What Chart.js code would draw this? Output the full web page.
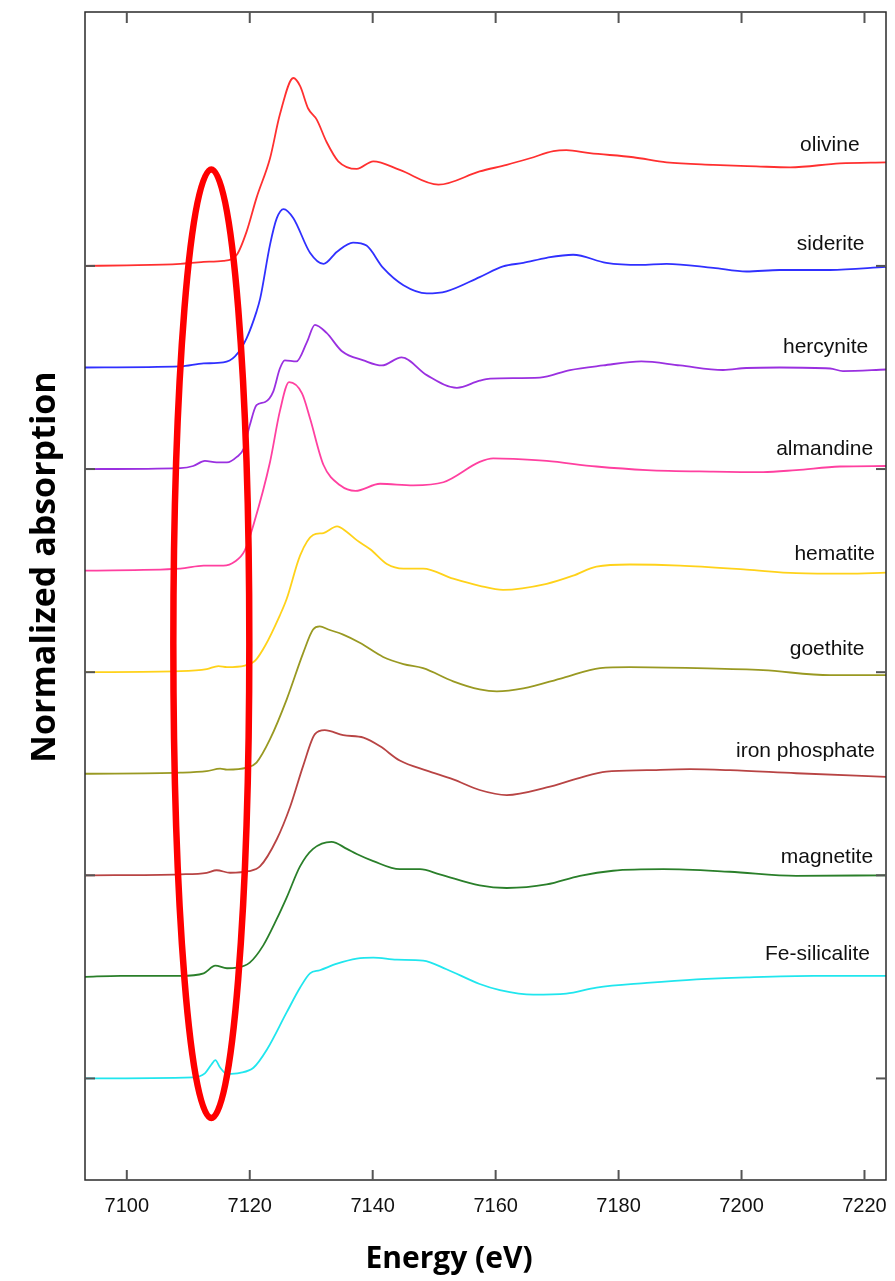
<!DOCTYPE html>
<html>
<head>
<meta charset="utf-8">
<script src="https://cdn.jsdelivr.net/npm/chart.js@4.4.1/dist/chart.umd.min.js"></script>
<style>
  html, body { margin: 0; padding: 0; background: #fff; }
  #wrap { width: 895px; height: 1281px; }
</style>
</head>
<body>
<div id="wrap"><canvas id="xanesChart" width="895" height="1281"></canvas></div>
<script>
// Fe K-edge XANES reference spectra (normalized, stacked with unit offsets)
const energyTicks = [7100, 7120, 7140, 7160, 7180, 7200, 7220];
const absTicks = [0, 2, 4, 6, 8];

const names = ["olivine", "siderite", "hercynite", "almandine", "hematite",
  "goethite", "iron phosphate", "magnetite", "Fe-silicalite"];
const offsets = [8, 7, 6, 5, 4, 3, 2, 1, 0];

const olivineE = [7093.2, 7100, 7108.7, 7112.5, 7115.7, 7117.9, 7119.5, 7121.1, 7123.3, 7124.9, 7127.1, 7128.2, 7129.5, 7130.9, 7132.5, 7134.4, 7137.4, 7140.1, 7144.4, 7150.7, 7157.4, 7161.8, 7165.6, 7169.4, 7171.5, 7175.3, 7182.4, 7187.8, 7195.4, 7202.4, 7207.9, 7216, 7223.5];
const olivineMu = [0, 0.005, 0.02, 0.04, 0.05, 0.11, 0.34, 0.67, 1.06, 1.49, 1.85, 1.77, 1.55, 1.44, 1.22, 1.03, 0.955, 1.03, 0.945, 0.80, 0.93, 0.995, 1.06, 1.13, 1.14, 1.11, 1.07, 1.02, 0.995, 0.98, 0.97, 1.01, 1.02];

const sideriteE = [7093.2, 7108.7, 7112.5, 7115.7, 7117.6, 7119.5, 7121.1, 7121.7, 7123.3, 7124.4, 7125.5, 7127.1, 7129.8, 7132, 7134.2, 7136.8, 7139, 7141.7, 7145, 7148.8, 7152, 7157.4, 7161.2, 7164.5, 7168.3, 7172.6, 7178, 7183.5, 7187.8, 7195.4, 7200.8, 7206.2, 7214.4, 7223.5];
const sideriteMu = [0, 0.01, 0.04, 0.05, 0.11, 0.29, 0.55, 0.68, 1.21, 1.47, 1.56, 1.47, 1.13, 1.02, 1.14, 1.23, 1.20, 0.98, 0.81, 0.73, 0.75, 0.89, 0.995, 1.03, 1.08, 1.11, 1.03, 1.01, 1.02, 0.98, 0.945, 0.96, 0.96, 0.99];

const hercyniteE = [7093.2, 7108.7, 7110.8, 7112.7, 7114.6, 7116.3, 7117.9, 7119, 7120, 7121.1, 7122.5, 7123.8, 7124.9, 7125.7, 7127.6, 7129.3, 7130.6, 7132.5, 7135, 7138.5, 7141.5, 7144.7, 7148.8, 7153.7, 7157.4, 7159.1, 7167.2, 7172.1, 7177.5, 7183.7, 7190, 7197, 7200.8, 7206.2, 7214.4, 7216.5, 7223.5];
const hercyniteMu = [0, 0.01, 0.03, 0.08, 0.065, 0.065, 0.12, 0.20, 0.43, 0.63, 0.66, 0.76, 0.99, 1.07, 1.06, 1.25, 1.42, 1.34, 1.16, 1.07, 1.02, 1.10, 0.925, 0.80, 0.87, 0.89, 0.90, 0.975, 1.02, 1.06, 1.02, 0.975, 0.995, 1.0, 0.99, 0.965, 0.98];

const almandineE = [7093.2, 7108.7, 7112.5, 7115.7, 7117.6, 7119.2, 7120.6, 7123.3, 7124.9, 7126.4, 7128.5, 7129.8, 7132, 7134.7, 7137.2, 7141.2, 7146.6, 7151.5, 7157.4, 7159.6, 7162.9, 7168.3, 7176.4, 7184.6, 7195.4, 7203.5, 7208.9, 7216, 7223.5];
const almandineMu = [0, 0.02, 0.05, 0.05, 0.09, 0.20, 0.45, 1.07, 1.57, 1.855, 1.745, 1.50, 1.04, 0.84, 0.785, 0.855, 0.84, 0.87, 1.07, 1.105, 1.10, 1.08, 1.025, 0.99, 0.975, 0.97, 0.99, 1.025, 1.03];

const hematiteE = [7093.2, 7108.7, 7113, 7114.9, 7116.3, 7119.2, 7120.9, 7122.5, 7124.9, 7126, 7128.2, 7130.3, 7132, 7134.2, 7135.8, 7137.4, 7139.6, 7142.3, 7145, 7148.2, 7153.1, 7157.4, 7161.2, 7168.3, 7172.6, 7176.4, 7181.8, 7190, 7200.8, 7208.9, 7217.1, 7223.5];
const hematiteMu = [0, 0.01, 0.03, 0.06, 0.05, 0.065, 0.115, 0.26, 0.56, 0.72, 1.15, 1.35, 1.37, 1.435, 1.38, 1.30, 1.21, 1.065, 1.02, 1.02, 0.92, 0.85, 0.81, 0.87, 0.95, 1.04, 1.06, 1.05, 1.01, 0.975, 0.97, 0.98];

const goethiteE = [7093.2, 7108.7, 7113, 7115.2, 7116.3, 7119.5, 7121.1, 7123.3, 7126, 7128.7, 7130.3, 7131.4, 7132.8, 7135.2, 7137.9, 7141.7, 7145, 7148.2, 7153.1, 7157.4, 7160.2, 7164.5, 7171, 7177, 7181.8, 7192.7, 7203.5, 7214.4, 7223.5];
const goethiteMu = [0, 0.01, 0.025, 0.05, 0.04, 0.06, 0.11, 0.34, 0.73, 1.19, 1.42, 1.45, 1.42, 1.37, 1.29, 1.15, 1.08, 1.04, 0.91, 0.83, 0.81, 0.84, 0.945, 1.04, 1.05, 1.04, 1.02, 0.97, 0.97];

const phosphateE = [7093.2, 7108.7, 7113, 7114.6, 7116.8, 7119.8, 7121.7, 7124.4, 7126.6, 7128.7, 7130.6, 7132.2, 7135.2, 7138.5, 7141.2, 7144.4, 7148.8, 7153.1, 7157.4, 7161.8, 7168.3, 7173.7, 7178, 7184.6, 7191.6, 7198.1, 7208.9, 7223.5];
const phosphateMu = [0, 0.01, 0.025, 0.05, 0.025, 0.04, 0.09, 0.355, 0.68, 1.08, 1.39, 1.43, 1.38, 1.355, 1.27, 1.13, 1.03, 0.945, 0.84, 0.79, 0.865, 0.96, 1.02, 1.035, 1.045, 1.035, 1.005, 0.97];

const magnetiteE = [7093.2, 7099, 7108.7, 7112.5, 7114.4, 7116.3, 7117.9, 7120, 7122.2, 7124.4, 7126, 7128.2, 7130.3, 7133.3, 7135.8, 7137.4, 7140.1, 7144.4, 7147.7, 7150.9, 7157.4, 7161.8, 7168.3, 7173.7, 7179.1, 7187.3, 7198.1, 7208.9, 7223.5];
const magnetiteMu = [0, 0.01, 0.01, 0.035, 0.11, 0.085, 0.09, 0.14, 0.31, 0.57, 0.78, 1.09, 1.26, 1.33, 1.26, 1.21, 1.14, 1.06, 1.06, 1.01, 0.90, 0.875, 0.91, 0.995, 1.045, 1.06, 1.035, 0.995, 1.0];

const silicaliteE = [7093.2, 7110.8, 7112.7, 7113.8, 7114.4, 7115.2, 7116.3, 7118.4, 7120.6, 7122.8, 7126, 7128.2, 7129.8, 7131.4, 7134.2, 7137.4, 7140.1, 7143.9, 7148.2, 7152, 7157.4, 7160.7, 7166.1, 7171.5, 7176.4, 7184.6, 7192.7, 7200.8, 7211.7, 7223.5];
const silicaliteMu = [0, 0.01, 0.05, 0.14, 0.18, 0.105, 0.045, 0.055, 0.105, 0.285, 0.65, 0.895, 1.035, 1.065, 1.13, 1.18, 1.19, 1.17, 1.16, 1.075, 0.93, 0.87, 0.825, 0.835, 0.895, 0.94, 0.975, 0.995, 1.01, 1.01];

// the red ellipse marking the pre-edge region: centre (eV, abs), half-width (eV), half-height (abs)
const preEdgeMark = [7113.75, 4.28, 6.18, 4.67];

const energies = [olivineE, sideriteE, hercyniteE, almandineE, hematiteE, goethiteE, phosphateE, magnetiteE, silicaliteE];
const spectra = [olivineMu, sideriteMu, hercyniteMu, almandineMu, hematiteMu, goethiteMu, phosphateMu, magnetiteMu, silicaliteMu];
const colors = ["#ff3030", "#3030ff", "#9a30e0", "#ff40a0", "#ffd21a", "#999922", "#b84444", "#2a7f2a", "#20e6ee"];

// label anchors: right end (eV) and lift above the baseline (abs units)
const labelPos = [
  [7219.2, 1.19], [7220.0, 1.21], [7220.6, 1.195], [7221.4, 1.20], [7221.7, 1.165],
  [7220.0, 1.23], [7221.7, 1.22], [7221.4, 1.18], [7220.9, 1.22]
];

const datasets = names.map((name, i) => ({
  label: name,
  data: energies[i].map((e, k) => ({ x: e, y: spectra[i][k] + offsets[i] })),
  borderColor: colors[i],
  borderWidth: 1.8,
  pointRadius: 0,
  fill: false,
  cubicInterpolationMode: "monotone",
}));

function seg(ctx, x1, y1, x2, y2) {
  ctx.beginPath();
  ctx.moveTo(x1, y1);
  ctx.lineTo(x2, y2);
  ctx.stroke();
}

const overlay = {
  id: "overlay",
  afterDatasetsDraw(chart) {
    const { ctx, chartArea: a } = chart;
    const x = chart.scales.x;
    const y = chart.scales.y;
    ctx.save();

    // pre-edge ellipse
    const cx = x.getPixelForValue(preEdgeMark[0]);
    const cy = y.getPixelForValue(preEdgeMark[1]);
    const rx = x.getPixelForValue(preEdgeMark[0] + preEdgeMark[2]) - cx;
    const ry = cy - y.getPixelForValue(preEdgeMark[1] + preEdgeMark[3]);
    ctx.strokeStyle = "#ff0000";
    ctx.lineWidth = 6.5;
    ctx.beginPath();
    ctx.ellipse(cx, cy, rx, ry, 0, 0, Math.PI * 2);
    ctx.stroke();

    // frame
    ctx.strokeStyle = "#2a2a2a";
    ctx.lineWidth = 1.5;
    ctx.strokeRect(a.left, a.top, a.right - a.left, a.bottom - a.top);

    // inward ticks
    ctx.strokeStyle = "#555";
    ctx.lineWidth = 2;
    energyTicks.forEach((v) => {
      const px = x.getPixelForValue(v);
      seg(ctx, px, a.bottom, px, a.bottom - 10);
      seg(ctx, px, a.top, px, a.top + 11);
    });
    absTicks.forEach((v) => {
      const py = y.getPixelForValue(v);
      seg(ctx, a.left, py, a.left + 10, py);
      seg(ctx, a.right, py, a.right - 10, py);
    });

    // spectrum names
    ctx.fillStyle = "#111";
    ctx.font = '21px "Liberation Sans", Arial, sans-serif';
    ctx.textAlign = "right";
    ctx.textBaseline = "middle";
    names.forEach((name, i) => {
      ctx.fillText(name, x.getPixelForValue(labelPos[i][0]), y.getPixelForValue(offsets[i] + labelPos[i][1]));
    });

    // axis titles
    ctx.fillStyle = "#000";
    ctx.textAlign = "center";
    ctx.font = '700 30px "Open Sans", sans-serif';
    ctx.textBaseline = "alphabetic";
    ctx.fillText("Energy (eV)", 449, 1268);

    ctx.translate(45, 567);
    ctx.rotate(-Math.PI / 2);
    ctx.font = '700 34px "Open Sans", sans-serif';
    ctx.textBaseline = "middle";
    ctx.fillText("Normalized absorption", 0, 0);

    ctx.restore();
  },
};

const canvas = document.getElementById("xanesChart");
const chart = new Chart(canvas.getContext("2d"), {
  type: "line",
  data: { datasets: datasets },
  options: {
    responsive: false,
    animation: false,
    devicePixelRatio: 1,
    layout: { padding: { left: 85, right: 9, top: 12, bottom: 0 } },
    plugins: {
      legend: { display: false },
      tooltip: { enabled: false },
    },
    scales: {
      x: {
        type: "linear",
        min: 7093.2,
        max: 7223.5,
        afterBuildTicks: (scale) => {
          scale.ticks = energyTicks.map((v) => ({ value: v }));
        },
        afterFit: (scale) => {
          scale.height = 101;
          scale.paddingLeft = 0;
          scale.paddingRight = 0;
        },
        grid: { display: false, drawTicks: false },
        border: { display: false },
        ticks: {
          padding: 14,
          maxRotation: 0,
          color: "#111",
          font: { family: '"Liberation Sans", Arial, sans-serif', size: 20 },
          callback: (v) => String(v),
        },
      },
      y: {
        type: "linear",
        display: false,
        min: -1,
        max: 10.5,
      },
    },
  },
  plugins: [overlay],
});
</script>
</body>
</html>
